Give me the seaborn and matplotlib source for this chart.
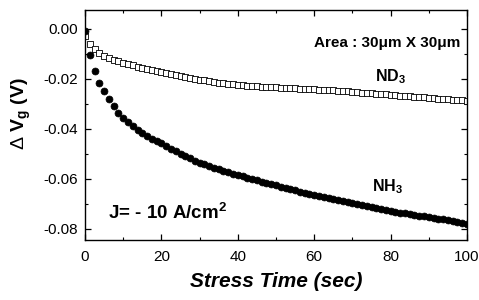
"""Gate voltage shift vs. stress time for NH3 and ND3 anneals."""

import numpy as np
import pandas as pd

import matplotlib
matplotlib.use("Agg")
import matplotlib.pyplot as plt
from matplotlib.ticker import MultipleLocator
import seaborn as sns

# stress time (sec), sampled every 1.25 s
stress_time = [i * 1.25 for i in range(81)]

nh3_dvg = [
    -0.0010, -0.0105, -0.0170, -0.0215, -0.0250, -0.0282, -0.0310, -0.0335,
    -0.0355, -0.0372, -0.0388, -0.0403, -0.0416, -0.0428, -0.0439, -0.0449,
    -0.0458, -0.0469, -0.0480, -0.0490, -0.0500, -0.0509, -0.0518, -0.0527,
    -0.0535, -0.0542, -0.0549, -0.0555, -0.0561, -0.0567, -0.0573, -0.0579,
    -0.0585, -0.0590, -0.0596, -0.0601, -0.0606, -0.0611, -0.0616, -0.0621,
    -0.0626, -0.0631, -0.0636, -0.0641, -0.0646, -0.0651, -0.0656, -0.0660,
    -0.0664, -0.0668, -0.0672, -0.0676, -0.0680, -0.0684, -0.0688, -0.0692,
    -0.0696, -0.0700, -0.0705, -0.0709, -0.0713, -0.0717, -0.0721, -0.0725,
    -0.0729, -0.0732, -0.0735, -0.0738, -0.0741, -0.0744, -0.0747, -0.0750,
    -0.0753, -0.0756, -0.0759, -0.0762, -0.0765, -0.0768, -0.0772, -0.0776,
    -0.0780,
]

nd3_dvg = [
    -0.0030, -0.0062, -0.0082, -0.0096, -0.0107, -0.0116, -0.0123, -0.0130,
    -0.0136, -0.0141, -0.0146, -0.0151, -0.0155, -0.0159, -0.0163, -0.0167,
    -0.0171, -0.0175, -0.0179, -0.0183, -0.0187, -0.0191, -0.0195, -0.0199,
    -0.0203, -0.0206, -0.0209, -0.0212, -0.0215, -0.0218, -0.0220, -0.0222,
    -0.0224, -0.0226, -0.0228, -0.0229, -0.0230, -0.0231, -0.0232, -0.0233,
    -0.0234, -0.0235, -0.0236, -0.0237, -0.0238, -0.0239, -0.0240, -0.0241,
    -0.0242, -0.0243, -0.0244, -0.0245, -0.0246, -0.0247, -0.0249, -0.0250,
    -0.0252, -0.0253, -0.0255, -0.0256, -0.0258, -0.0259, -0.0261, -0.0262,
    -0.0264, -0.0265, -0.0267, -0.0268, -0.0270, -0.0271, -0.0273, -0.0274,
    -0.0276, -0.0277, -0.0279, -0.0280, -0.0282, -0.0283, -0.0285, -0.0286,
    -0.0288,
]

x_ticks = [0, 20, 40, 60, 80, 100]
y_ticks = [0.00, -0.02, -0.04, -0.06, -0.08]


def _setup_style():
    sns.set_style("ticks")
    plt.rcParams.update({
        "font.family": ["Liberation Sans", "DejaVu Sans"],
        "mathtext.fontset": "custom",
        "mathtext.rm": "Liberation Sans",
        "mathtext.bf": "Liberation Sans:bold",
        "mathtext.it": "Liberation Sans:italic",
        "axes.edgecolor": "black",
        "axes.labelcolor": "black",
        "text.color": "black",
        "axes.linewidth": 1.0,
        "xtick.color": "black",
        "ytick.color": "black",
    })


_setup_style()

df = pd.DataFrame({"t": stress_time, "nh3": nh3_dvg, "nd3": nd3_dvg})

fig = plt.figure(figsize=(4.79, 3.0), dpi=100)
ax = fig.add_axes([0.1775, 0.20, 0.7975, 0.767])

# ND3: open squares
sns.scatterplot(
    data=df, x="t", y="nd3", marker="s", s=14,
    facecolor="white", edgecolor="black", linewidth=0.6, ax=ax, zorder=2,
)
# NH3: filled circles
sns.scatterplot(
    data=df, x="t", y="nh3", marker="o", s=25,
    color="black", edgecolor="black", linewidth=0.5, ax=ax, zorder=3,
)

ax.set_xlim(0, 100)
ax.set_ylim(-0.0844, 0.0076)
ax.set_xticks(x_ticks)
ax.set_yticks(y_ticks)
ax.set_xticklabels([f"{v:d}" for v in x_ticks])
ax.set_yticklabels([f"{v:.2f}" for v in y_ticks])
ax.xaxis.set_minor_locator(MultipleLocator(10))
ax.yaxis.set_minor_locator(MultipleLocator(0.01))
ax.tick_params(which="both", direction="in", top=True, right=True, labelsize=11)
ax.tick_params(axis="x", pad=7)
ax.tick_params(axis="y", pad=5)
ax.tick_params(which="major", length=4, width=0.9)
ax.tick_params(which="minor", length=2.5, width=0.8)

ax.set_xlabel("Stress Time (sec)", fontsize=15, fontweight="bold", style="italic", labelpad=6)
ax.set_ylabel(r"$\Delta$ $\mathbf{V_g}$ (V)", fontsize=14, fontweight="bold")
ax.yaxis.set_label_coords(-0.136, 0.55)

txt = dict(transform=ax.transAxes, fontweight="bold", color="black")
ax.text(0.60, 0.857, "Area : 30μm X 30μm", fontsize=11, va="center", ha="left", **txt)
ax.text(0.76, 0.71, r"$\mathbf{ND_3}$", fontsize=11.5, va="center", ha="left", **txt)
ax.text(0.752, 0.23, r"$\mathbf{NH_3}$", fontsize=11.5, va="center", ha="left", **txt)
ax.text(0.06, 0.117, r"J= - 10 A/cm$^\mathbf{2}$", fontsize=13.5, va="center", ha="left", **txt)

fig.savefig("out.png", dpi=100)
plt.close(fig)
